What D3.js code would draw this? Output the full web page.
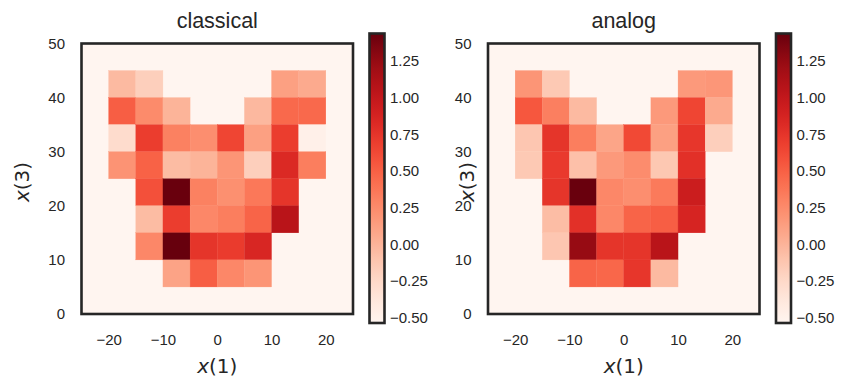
<!DOCTYPE html>
<html>
<head>
<meta charset="utf-8">
<script src="https://cdn.jsdelivr.net/npm/d3@7"></script>
<style>
  html, body { margin: 0; padding: 0; background: #ffffff; }
  svg { display: block; }
  text { font-family: "Liberation Sans", Arial, sans-serif; fill: #262626; }
</style>
</head>
<body>
<svg id="chart" width="851" height="379"></svg>
<script>
// ---------------- data ----------------
const panelTitles = ["classical", "analog"];
const xEdges = [-20, -15, -10, -5, 0, 5, 10, 15];      // left edge of each column (width 5)
const yEdges = [40, 35, 30, 25, 20, 15, 10, 5];        // bottom edge of each row, top row first (height 5)
const cellSize = 5;
const classicalValues = [
  [-0.04, -0.18, null, null, null, null, 0.12, 0.06],
  [0.51, 0.25, 0.00, null, null, -0.03, 0.45, 0.45],
  [-0.28, 0.70, 0.31, 0.23, 0.65, 0.12, 0.70, -0.48],
  [0.20, 0.49, -0.05, 0.00, 0.19, -0.18, 0.83, 0.33],
  [null, 0.59, 1.43, 0.31, 0.22, 0.36, 0.75, null],
  [null, -0.05, 0.70, 0.27, 0.33, 0.48, 1.06, null],
  [null, 0.27, 1.44, 0.75, 0.71, 0.85, null, null],
  [null, null, 0.10, 0.51, 0.27, 0.19, null, null]
];
const analogValues = [
  [0.19, -0.14, null, null, null, null, 0.16, 0.18],
  [0.55, 0.32, -0.04, null, null, 0.16, 0.65, 0.06],
  [-0.12, 0.75, 0.33, 0.09, 0.63, 0.12, 0.74, -0.18],
  [-0.14, 0.72, -0.08, 0.16, 0.24, -0.13, 0.78, null],
  [null, 0.75, 1.43, 0.27, 0.23, 0.35, 0.94, null],
  [null, -0.06, 0.78, 0.27, 0.48, 0.51, 0.87, null],
  [null, -0.12, 1.24, 0.75, 0.75, 1.06, null, null],
  [null, null, 0.48, 0.46, 0.74, -0.04, null, null]
];
const panelValues = [classicalValues, analogValues];
const colorMin = -0.535, colorMax = 1.437;
const xDomain = [-25, 25];
const yDomain = [0, 50];
const xTicks = [-20, -10, 0, 10, 20];
const yTicks = [0, 10, 20, 30, 40, 50];
const cbTicks = [-0.5, -0.25, 0, 0.25, 0.5, 0.75, 1.0, 1.25];
const xLabelText = "1", yLabelText = "3";

// ---------------- layout ----------------
const svg = d3.select("#chart");
const ink = "#262626";
const color = d3.scaleSequential(d3.interpolateReds).domain([colorMin, colorMax]);
const panels = [
  { left: 81.5, ylabelX: 23 },
  { left: 488, ylabelX: 468 }
];
const plotW = 271.5, plotTop = 43.5, plotBottom = 314;
const cbOffset = 16.5, cbW = 15, cbTop = 33.5, cbBottom = 323;
const tickFont = "15px";
const fmtMinus = s => s.replace("-", "\u2212");

// gradient for colorbars
const defs = svg.append("defs");
const grad = defs.append("linearGradient").attr("id", "cbgrad")
  .attr("x1", 0).attr("y1", 1).attr("x2", 0).attr("y2", 0);
d3.range(0, 1.0001, 0.02).forEach(t => {
  grad.append("stop").attr("offset", t).attr("stop-color", d3.interpolateReds(t));
});

function mathLabel(g, x, y, num, rotate) {
  const t = g.append("text")
    .attr("transform", `translate(${x},${y})` + (rotate ? " rotate(-90)" : ""))
    .attr("text-anchor", "middle")
    .style("font-family", "'DejaVu Sans', sans-serif")
    .style("font-size", "20px");
  t.append("tspan").style("font-style", "italic").text("x");
  t.append("tspan").text("(" + num + ")");
}

panels.forEach((p, i) => {
  const g = svg.append("g");
  const xs = d3.scaleLinear().domain(xDomain).range([p.left, p.left + plotW]);
  const ys = d3.scaleLinear().domain(yDomain).range([plotBottom, plotTop]);

  // background (value-free cells show the lowest colour)
  g.append("rect")
    .attr("x", xs(xDomain[0])).attr("y", ys(yDomain[1]))
    .attr("width", xs(xDomain[1]) - xs(xDomain[0]))
    .attr("height", ys(yDomain[0]) - ys(yDomain[1]))
    .attr("fill", color(colorMin));

  // cells
  const cells = [];
  panelValues[i].forEach((row, r) => row.forEach((v, c) => {
    if (v !== null) cells.push({ x0: xEdges[c], y0: yEdges[r], v });
  }));
  g.selectAll("rect.cell").data(cells).join("rect")
    .attr("class", "cell")
    .attr("x", d => xs(d.x0))
    .attr("y", d => ys(d.y0 + cellSize))
    .attr("width", d => xs(d.x0 + cellSize) - xs(d.x0))
    .attr("height", d => ys(d.y0) - ys(d.y0 + cellSize))
    .attr("fill", d => color(d.v))
    .attr("stroke", d => color(d.v)).attr("stroke-width", 0.3);

  // frame
  g.append("rect")
    .attr("x", xs(xDomain[0])).attr("y", ys(yDomain[1]))
    .attr("width", xs(xDomain[1]) - xs(xDomain[0]))
    .attr("height", ys(yDomain[0]) - ys(yDomain[1]))
    .attr("fill", "none").attr("stroke", ink).attr("stroke-width", 2.6);

  // axes
  const xa = g.append("g").attr("transform", `translate(0,${plotBottom})`)
    .call(d3.axisBottom(xs).tickValues(xTicks).tickSize(0).tickPadding(20)
      .tickFormat(d => fmtMinus(d3.format("d")(d))));
  const ya = g.append("g").attr("transform", `translate(${p.left},0)`)
    .call(d3.axisLeft(ys).tickValues(yTicks).tickSize(0).tickPadding(16.5)
      .tickFormat(d3.format("d")));
  [xa, ya].forEach(a => {
    a.select(".domain").remove();
    a.selectAll("text").style("font-size", tickFont).style("fill", ink)
      .style("font-family", "'Liberation Sans', Arial, sans-serif");
  });

  // title
  g.append("text")
    .attr("x", (xs(xDomain[0]) + xs(xDomain[1])) / 2).attr("y", 28)
    .attr("text-anchor", "middle").style("font-size", "21.5px")
    .text(panelTitles[i]);

  // axis labels
  mathLabel(g, (xs(xDomain[0]) + xs(xDomain[1])) / 2, 373, xLabelText, false);
  mathLabel(g, p.ylabelX + 6, 182, yLabelText, true);

  // colorbar
  const cbX = p.left + plotW + cbOffset;
  const cs = d3.scaleLinear().domain([colorMin, colorMax]).range([cbBottom, cbTop]);
  g.append("rect")
    .attr("x", cbX).attr("y", cbTop).attr("width", cbW).attr("height", cbBottom - cbTop)
    .attr("fill", "url(#cbgrad)").attr("stroke", ink).attr("stroke-width", 2.6);
  const ca = g.append("g").attr("transform", `translate(${cbX + cbW},0)`)
    .call(d3.axisRight(cs).tickValues(cbTicks).tickSize(0).tickPadding(5.5)
      .tickFormat(d => fmtMinus(d3.format(".2f")(d))));
  ca.select(".domain").remove();
  ca.selectAll("text").style("font-size", tickFont).style("fill", ink)
    .style("font-family", "'Liberation Sans', Arial, sans-serif");
});
</script>
</body>
</html>
